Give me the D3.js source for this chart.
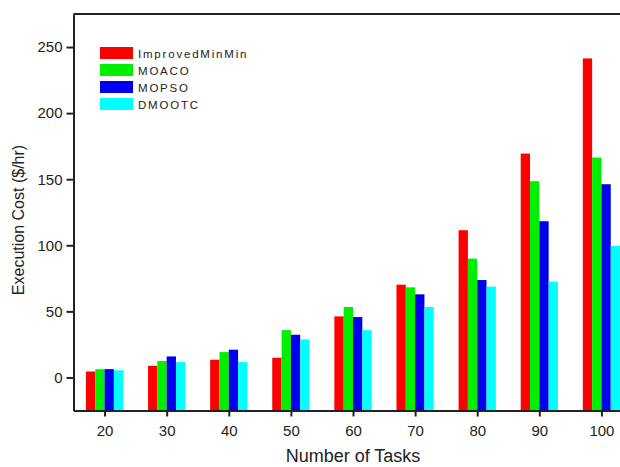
<!DOCTYPE html>
<html>
<head>
<meta charset="utf-8">
<script src="https://cdn.jsdelivr.net/npm/d3@7"></script>
<style>
  body { margin: 0; background: #fff; }
  svg { display: block; font-family: "Liberation Sans", Arial, sans-serif; }
</style>
</head>
<body>
<svg id="chart" width="620" height="467"></svg>
<script>
const tasks = [20, 30, 40, 50, 60, 70, 80, 90, 100];
const seriesNames = ["ImprovedMinMin", "MOACO", "MOPSO", "DMOOTC"];
const improvedMinMin = [4.5, 8.8, 13.4, 14.9, 46.2, 70.2, 111.4, 169.4, 241.4];
const moaco = [6.2, 12.4, 19.2, 35.8, 53.3, 68.2, 89.9, 148.5, 166.4];
const mopso = [6.3, 15.9, 21.0, 32.3, 45.7, 62.9, 73.7, 118.2, 146.2];
const dmootc = [5.4, 11.6, 11.6, 28.8, 35.8, 53.3, 68.7, 72.5, 99.5];
const yTicks = [0, 50, 100, 150, 200, 250];
const COLORS = ["#ff0000", "#00ee00", "#0000f0", "#00ffff"];

const series = [improvedMinMin, moaco, mopso, dmootc];
const barW = 1.5; // in task units

const svg = d3.select("#chart");
const ink = "#222";

const x = d3.scaleLinear().domain([15, 105]).range([73.5, 632.5]);
const y = d3.scaleLinear().domain([-25, 275]).range([410.5, 14]);

// bars
series.forEach((vals, s) => {
  svg.append("g")
    .selectAll("rect")
    .data(vals.map((v, i) => ({ t: tasks[i], v })))
    .enter()
    .append("rect")
    .attr("x", d => x(d.t + (s - 2) * barW))
    .attr("width", d => x(d.t + (s - 1) * barW) - x(d.t + (s - 2) * barW))
    .attr("y", d => y(d.v))
    .attr("height", d => y(-25) - y(d.v))
    .attr("fill", COLORS[s]);
});

// top frame
svg.append("line")
  .attr("x1", x(15)).attr("x2", x(105))
  .attr("y1", y(275)).attr("y2", y(275))
  .attr("stroke", ink).attr("stroke-width", 2);

const xAxis = svg.append("g")
  .attr("transform", `translate(0,${y(-25)})`)
  .call(d3.axisBottom(x).tickValues(tasks).tickSize(6).tickSizeOuter(0).tickPadding(9));

const yAxis = svg.append("g")
  .attr("transform", `translate(${x(15)},0)`)
  .call(d3.axisLeft(y).tickValues(yTicks).tickSize(7).tickSizeOuter(0).tickPadding(4));

[xAxis, yAxis].forEach(g => {
  g.select(".domain").attr("stroke", ink).attr("stroke-width", 2);
  g.selectAll(".tick line").attr("stroke", ink).attr("stroke-width", 2);
  g.selectAll(".tick text")
    .attr("fill", ink)
    .style("font-size", "15px")
    .style("font-family", "Liberation Sans, Arial, sans-serif");
});

// axis titles
svg.append("text")
  .attr("x", 353).attr("y", 462)
  .attr("text-anchor", "middle")
  .attr("fill", ink)
  .style("font-size", "18px")
  .text("Number of Tasks");

svg.append("text")
  .attr("transform", "translate(24,220) rotate(-90)")
  .attr("text-anchor", "middle")
  .attr("fill", ink)
  .style("font-size", "16px")
  .text("Execution Cost ($/hr)");

// legend
const legend = svg.append("g").attr("transform", "translate(100,47)");
seriesNames.forEach((name, i) => {
  const row = legend.append("g").attr("transform", `translate(0,${i * 17})`);
  row.append("rect")
    .attr("width", 33).attr("height", 12)
    .attr("fill", COLORS[i]);
  row.append("text")
    .attr("x", 38).attr("y", 10.5)
    .attr("fill", ink)
    .style("font-size", "11.5px")
    .style("letter-spacing", "1.8px")
    .text(name);
});
</script>
</body>
</html>
